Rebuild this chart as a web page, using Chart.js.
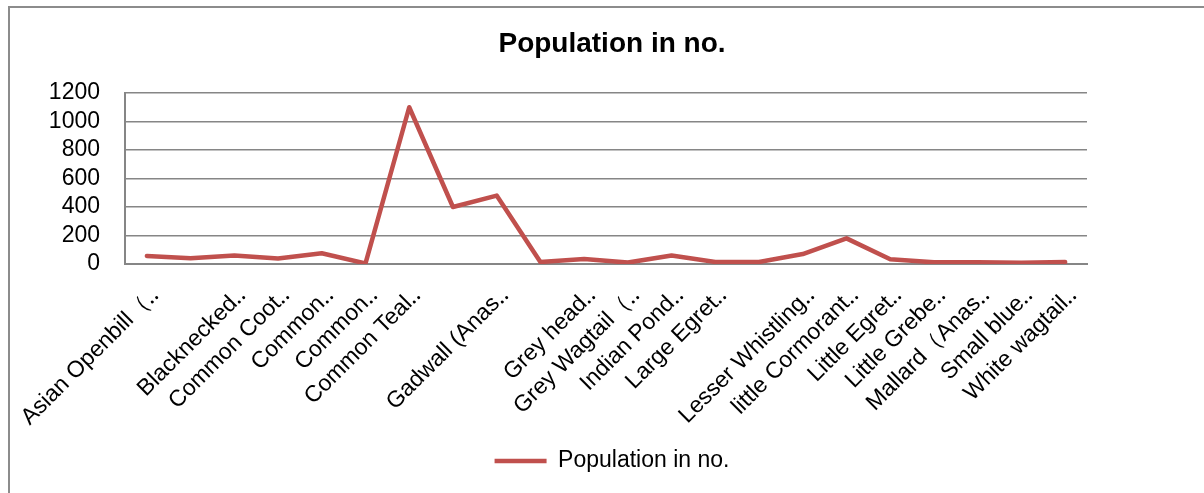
<!DOCTYPE html>
<html>
<head>
<meta charset="utf-8">
<script src="https://cdn.jsdelivr.net/npm/chart.js@4.4.1/dist/chart.umd.min.js"></script>
<style>
  html, body { margin: 0; padding: 0; background: #ffffff; }
  #wrap { position: relative; width: 1204px; height: 493px; overflow: hidden; }
  #frame { position: absolute; left: 8px; top: 6px; width: 1300px; height: 600px;
           border-top: 2px solid #8c8c8c; border-left: 2px solid #8c8c8c; }
  canvas { position: absolute; left: 0; top: 0; }
</style>
</head>
<body>
<div id="wrap">
  <div id="frame"></div>
  <canvas id="c" width="1204" height="493"></canvas>
</div>
<script>
const chartTitle = "Population in no.";
const seriesName = "Population in no.";
const categories = [
  "Asian Openbill（‥", "", "Blacknecked‥", "Common Coot‥", "Common‥", "Common‥",
  "Common Teal‥", "", "Gadwall (Anas‥", "", "Grey head‥", "Grey Wagtail（‥",
  "Indian Pond‥", "Large Egret‥", "", "Lesser Whistling‥", "little Cormorant‥",
  "Little Egret‥", "Little Grebe‥", "Mallard（Anas‥", "Small blue‥", "White wagtail‥"
];
const populationValues = [56, 40, 59, 38, 75, 4, 1100, 400, 480, 14, 35, 10, 60, 14, 14, 70, 180, 33, 12, 12, 9, 14];
const yTickMin = 0, yTickMax = 1200, yTickStep = 200;

const FONT = "'Liberation Sans', Arial, sans-serif";
const lineColor = "#C0504D";
const gridColor = "#868686";

new Chart(document.getElementById("c"), {
  type: "line",
  data: {
    labels: categories,
    datasets: [{
      label: seriesName,
      data: populationValues,
      borderColor: lineColor,
      backgroundColor: lineColor,
      borderWidth: 4.5,
      borderCapStyle: "round",
      borderJoinStyle: "round",
      pointRadius: 0,
      pointHoverRadius: 0,
      pointStyle: "line",
      tension: 0,
      fill: false
    }]
  },
  options: {
    responsive: false,
    animation: false,
    events: [],
    layout: { padding: { left: 20, right: 0, top: 0, bottom: 10.5 } },
    plugins: {
      title: {
        display: true,
        text: chartTitle,
        color: "#000",
        font: { family: FONT, size: 28, weight: "bold" },
        padding: { top: 27, bottom: 32.4 }
      },
      legend: {
        display: true,
        position: "bottom",
        labels: {
          color: "#000",
          font: { family: FONT, size: 23 },
          usePointStyle: true,
          pointStyle: "line",
          pointStyleWidth: 52,
          padding: 10
        }
      },
      tooltip: { enabled: false }
    },
    scales: {
      x: {
        type: "category",
        offset: true,
        grid: { display: false, drawTicks: false },
        border: { display: true, color: gridColor, width: 2 },
        ticks: {
          color: "#000",
          font: { family: FONT, size: 23 },
          autoSkip: false,
          minRotation: 45,
          maxRotation: 45,
          padding: 18,
          labelOffset: 8
        },
        afterFit: (s) => { s.height = 175.5; s.paddingLeft = 0; s.paddingRight = 0; }
      },
      y: {
        min: yTickMin,
        max: yTickMax,
        ticks: {
          stepSize: yTickStep,
          autoSkip: false,
          color: "#000",
          font: { family: FONT, size: 23 },
          padding: 25,
          callback: (v) => String(v)
        },
        grid: { display: true, color: gridColor, lineWidth: 1.5, drawTicks: false },
        border: { display: true, color: gridColor, width: 2 },
        afterFit: (s) => { s.width = 105; }
      },
      yRight: {
        position: "right",
        display: true,
        grid: { display: false, drawTicks: false },
        border: { display: false },
        ticks: { display: false },
        afterFit: (s) => { s.width = 117; }
      }
    }
  }
});
</script>
</body>
</html>
